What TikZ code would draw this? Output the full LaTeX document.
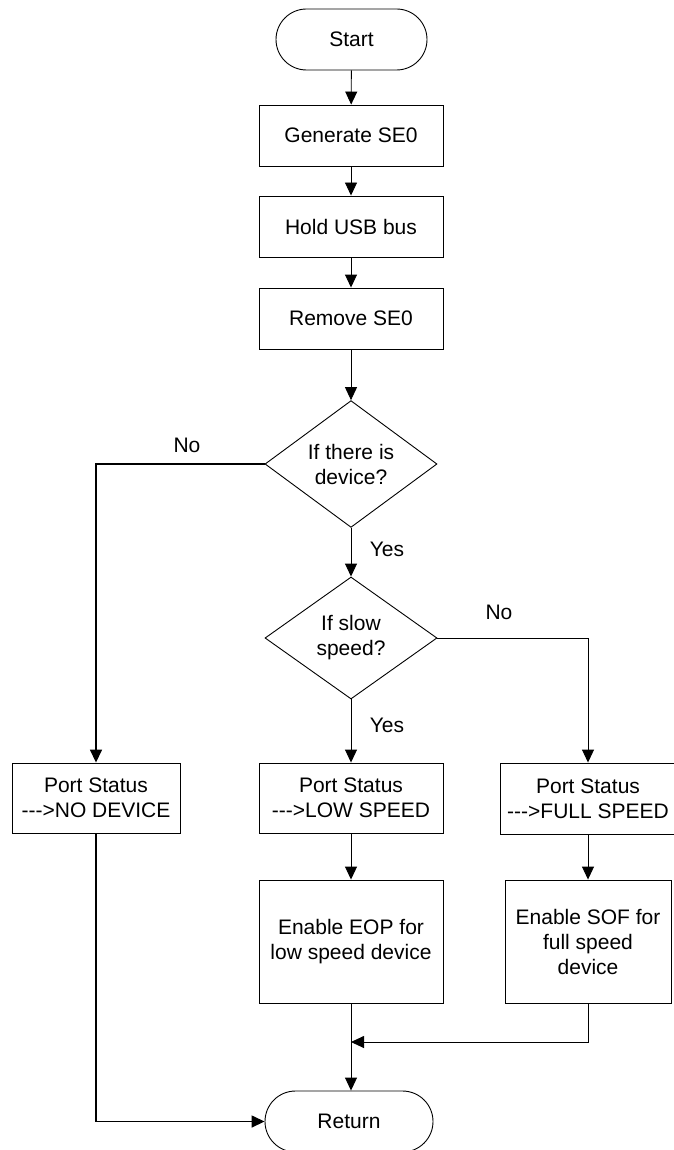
\documentclass[tikz,border=0pt]{standalone}
\usepackage{fontspec}
% plain family: no TeX ligatures, so "--->" keeps its three hyphens
\newfontfamily\chartfont{Liberation Sans}
\usetikzlibrary{arrows.meta,shapes.geometric}
\begin{document}
\begin{tikzpicture}[x=1pt,y=-1pt,
  font=\chartfont\fontsize{21}{25}\selectfont,
  line width=0.9pt,
  box/.style={draw,align=center,inner sep=0pt,minimum height=61pt,minimum width=184pt},
  term/.style={draw,align=center,inner sep=0pt,minimum height=61pt,rounded corners=30.5pt},
  decision/.style={draw,diamond,align=center,inner sep=0pt,minimum width=172pt,minimum height=122pt},
  flow/.style={-{Triangle[length=13pt,width=12pt]}},
  lbl/.style={inner sep=0pt}]
\useasboundingbox (0,0) rectangle (673,1150);

% main column
\node[term,minimum width=151pt] (start) at (351.5,39.5) {Start};
\node[box] (gen) at (351,135.5) {Generate SE0};
\node[box] (hold) at (351,226.5) {Hold USB bus};
\node[box] (rem) at (351,318.5) {Remove SE0};
\node[decision] (d1) at (351,464) {If there is\\device?};
\node[decision] (d2) at (351,638) {If slow\\speed?};

% status boxes
\node[box,minimum width=168pt,minimum height=70pt] (psno) at (96,798) {Port Status\\--->NO DEVICE};
\node[box,minimum height=70pt] (pslow) at (351,798) {Port Status\\--->LOW SPEED};
\node[box,minimum width=176pt,minimum height=71pt] (psfull) at (588,798.5) {Port Status\\--->FULL SPEED};

% enable boxes
\node[box,minimum height=123pt] (enlow) at (351,941.5) {Enable EOP for\\low speed device};
\node[box,minimum width=166pt,minimum height=123pt] (enfull) at (588,941.5) {Enable SOF for\\full speed\\device};

\node[term,minimum width=168pt] (ret) at (349,1121.5) {Return};

% branch labels
\node[lbl] (no1) at (187,445) {No};
\node[lbl] (yes1) at (387,549) {Yes};
\node[lbl] (no2) at (499,612) {No};
\node[lbl] (yes2) at (387,725) {Yes};

\coordinate (join) at (351,1042);

% connectors
\draw[flow] (start) -- (gen);
\draw[flow] (gen) -- (hold);
\draw[flow] (hold) -- (rem);
\draw[flow] (rem) -- (d1);
\draw[flow] (d1) -- (d2);
\draw[flow,line width=1.5pt] (d1.west) -| (psno.north);
\draw[flow] (d2.south) -- (pslow.north);
\draw[flow] (d2.east) -| (psfull.north);
\draw[flow] (pslow) -- (enlow);
\draw[flow] (psfull) -- (enfull);
\draw[flow] (enlow.south) -- (enlow.south |- ret.north);
\draw[flow] (enfull.south) |- (join);
\draw[flow,line width=1.5pt] (psno.south) |- (ret.west);
\end{tikzpicture}
\end{document}
